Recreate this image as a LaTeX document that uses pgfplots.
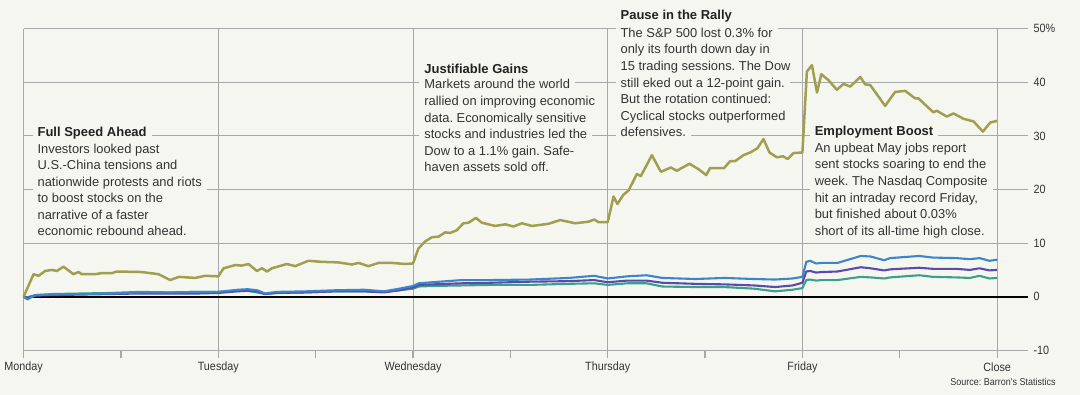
\documentclass[border=0pt]{standalone}
\usepackage{pgfplots}
\pgfplotsset{compat=1.18}
\usepackage{fontspec}
\setmainfont{Liberation Sans}
\newfontfamily\condfont{Liberation Sans}[FakeStretch=0.9]
\definecolor{bgc}{HTML}{F6F6F1}
\definecolor{gridc}{HTML}{A8A8A8}
\definecolor{textc}{HTML}{333333}
\definecolor{titlec}{HTML}{222222}
\definecolor{olive}{HTML}{A09F4F}
\definecolor{blues}{HTML}{3A86C8}
\definecolor{purp}{HTML}{5A4BAA}
\definecolor{teal2}{HTML}{3AA08C}
\newcommand{\bodyfont}{\fontsize{6.45}{8.3}\selectfont}
\newcommand{\titlefont}{\bfseries\fontsize{6.5}{8.3}\selectfont}
\newcommand{\tickfont}{\condfont\fontsize{6}{7}\selectfont}
\frenchspacing

\pgfplotstableread{
x y
0 0
0.051 4.2
0.077 3.9
0.111 4.8
0.145 5.0
0.171 4.8
0.205 5.6
0.256 4.2
0.282 4.6
0.299 4.2
0.368 4.2
0.402 4.4
0.453 4.4
0.479 4.7
0.607 4.6
0.693 4.2
0.753 3.1
0.798 3.7
0.881 3.5
0.933 3.9
1.000 3.8
1.027 5.3
1.087 5.9
1.121 5.8
1.155 6.1
1.198 4.8
1.224 5.3
1.250 4.7
1.275 5.3
1.352 6.1
1.395 5.7
1.463 6.7
1.532 6.5
1.617 6.4
1.686 6.0
1.720 6.3
1.771 5.7
1.823 6.3
1.892 6.3
1.960 6.1
2.000 6.2
2.028 9.0
2.062 10.3
2.097 11.1
2.131 11.2
2.165 12.0
2.191 11.9
2.225 12.4
2.259 13.7
2.285 13.8
2.323 14.7
2.354 13.8
2.422 13.2
2.474 13.5
2.516 13.1
2.559 13.7
2.611 13.2
2.696 13.6
2.756 14.3
2.833 13.7
2.902 14.0
2.931 14.4
2.953 13.9
3.000 13.9
3.030 18.7
3.050 17.3
3.080 19.0
3.107 19.8
3.150 22.9
3.170 22.5
3.227 26.4
3.273 23.3
3.324 24.1
3.355 23.5
3.420 24.8
3.466 23.8
3.506 22.7
3.526 24.0
3.598 24.0
3.629 25.3
3.655 25.3
3.697 26.4
3.732 26.9
3.769 27.7
3.800 29.4
3.831 26.9
3.869 26.0
3.900 26.2
3.924 25.7
3.955 26.8
4.000 26.9
4.023 42.0
4.049 43.2
4.075 38.1
4.097 41.5
4.134 40.4
4.177 38.6
4.211 39.7
4.246 39.2
4.297 41.0
4.323 39.6
4.348 39.5
4.425 35.6
4.476 38.2
4.528 38.4
4.579 37.0
4.596 37.0
4.631 35.8
4.673 34.4
4.690 34.7
4.742 33.6
4.776 34.2
4.827 33.2
4.879 32.7
4.927 30.8
4.965 32.5
5.000 32.8
}\olivedata

\pgfplotstableread{
x b p t
0 0 0 0
0.02 -0.5 -0.2 -0.1
0.06 0.3 0.2 0.3
0.15 0.4 0.3 0.5
0.30 0.5 0.4 0.6
0.45 0.6 0.5 0.7
0.60 0.8 0.6 0.9
0.75 0.8 0.6 0.8
0.90 0.9 0.6 0.9
1.00 0.9 0.7 0.9
1.10 1.3 1.0 1.1
1.15 1.4 1.1 1.1
1.20 1.2 1.0 0.8
1.24 0.6 0.5 0.5
1.30 0.9 0.7 0.7
1.45 1.0 0.8 0.8
1.60 1.2 1.0 1.0
1.75 1.3 1.0 1.0
1.85 1.0 0.8 0.9
1.93 1.5 1.2 1.2
2.00 2.0 1.7 1.5
2.03 2.5 2.2 1.9
2.10 2.7 2.3 2.0
2.25 3.1 2.5 2.1
2.40 3.1 2.6 2.2
2.60 3.2 2.8 2.2
2.80 3.5 2.9 2.4
2.93 3.9 3.1 2.5
3.00 3.4 2.7 2.2
3.10 3.8 3.0 2.5
3.20 4.0 3.0 2.5
3.28 3.5 2.6 1.9
3.45 3.3 2.4 1.8
3.60 3.5 2.3 1.8
3.75 3.3 2.1 1.5
3.86 3.2 1.8 1.0
3.95 3.4 2.1 1.3
4.00 3.7 2.6 1.6
4.02 6.5 4.7 3.1
4.04 6.7 4.8 3.2
4.07 6.2 4.5 3.0
4.10 6.3 4.6 3.1
4.18 6.3 4.7 3.1
4.30 7.6 5.5 3.7
4.35 7.5 5.3 3.6
4.42 6.8 4.9 3.4
4.45 7.2 5.1 3.6
4.60 7.6 5.4 4.0
4.67 7.3 5.2 3.7
4.79 7.2 5.2 3.6
4.86 7.0 5.0 3.5
4.91 7.2 5.3 3.9
4.96 6.7 4.9 3.4
5.00 6.9 5.0 3.5
}\lowdata

\begin{document}
\begin{tikzpicture}
\fill[bgc] (0,0) rectangle (540pt,197.5pt);
\useasboundingbox (0,0) rectangle (540pt,197.5pt);
\begin{axis}[
  at={(11.8pt,22.35pt)}, anchor=south west,
  scale only axis, width=486.75pt, height=160.8pt,
  xmin=0, xmax=5, ymin=-10, ymax=50,
  clip=false, no markers,
  axis line style={draw=none},
  xtick={0,1,2,3,4,5},
  xticklabels={Monday,Tuesday,Wednesday,Thursday,Friday,Close},
  minor xtick={0.5,1.5,2.5,3.5,4.5},
  xtick pos=bottom, tick align=outside,
  major tick length=4pt, minor tick length=4pt,
  x tick style={gridc, line width=0.6pt},
  ytick={-10,0,10,20,30,40,50},
  yticklabels={-10,0,10,20,30,40,50\%},
  ytick pos=right,
  y tick style={draw=none},
  xticklabel style={font=\tickfont, text=textc, anchor=center, yshift=-4.7pt},
  yticklabel style={font=\tickfont, text=textc, anchor=west, xshift=14pt, inner sep=0pt},
]
\pgfplotsinvokeforeach{-10,10,20,30,40,50}{
  \draw[gridc, line width=0.5pt] (axis cs:0,#1) -- (axis cs:5.159,#1);
}
\pgfplotsinvokeforeach{0,1,2,3,4,5}{
  \draw[gridc, line width=0.5pt] (axis cs:#1,-10) -- (axis cs:#1,50);
}
\draw[black, line width=1pt] (axis cs:0,0) -- (axis cs:5.159,0);
\addplot[teal2, line width=1.05pt, line join=round] table[x=x, y=t] {\lowdata};
\addplot[purp, line width=1.05pt, line join=round] table[x=x, y=p] {\lowdata};
\addplot[blues, line width=1.05pt, line join=round] table[x=x, y=b] {\lowdata};
\addplot[olive, line width=1.25pt, line join=round] table[x=x, y=y] {\olivedata};
\end{axis}

\begin{scope}[shift={(0,197.5pt)}, x=0.5pt, y=-0.5pt,
  body/.style={font=\bodyfont, text=textc, fill=bgc, inner xsep=2.5pt, inner ysep=0pt, text height=5.6pt, text depth=2.9pt, anchor=base west},
  ttl/.style={body, font=\titlefont, text=titlec}]
% Full Speed Ahead
\node[ttl] at (32.2,137) {Full Speed Ahead};
\node[body] at (32.2,153.5) {Investors looked past};
\node[body] at (32.2,170) {U.S.-China tensions and};
\node[body] at (32.2,186.5) {nationwide protests and riots};
\node[body] at (32.2,203) {to boost stocks on the};
\node[body] at (32.2,219.5) {narrative of a faster};
\node[body] at (32.2,236) {economic rebound ahead.};
% Justifiable Gains
\node[ttl] at (419,73.3) {Justifiable Gains};
\node[body] at (419,89) {Markets around the world};
\node[body] at (419,105.6) {rallied on improving economic};
\node[body] at (419,122.2) {data. Economically sensitive};
\node[body] at (419,138.8) {stocks and industries led the};
\node[body] at (419,155.4) {Dow to a 1.1\% gain. Safe-};
\node[body] at (419,172) {haven assets sold off.};
% Pause in the Rally
\node[ttl] at (615.2,20) {Pause in the Rally};
\node[body] at (615.2,37.3) {The S\&P 500 lost 0.3\% for};
\node[body] at (615.2,53.9) {only its fourth down day in};
\node[body] at (615.2,70.5) {15 trading sessions. The Dow};
\node[body] at (615.2,87.1) {still eked out a 12-point gain.};
\node[body] at (615.2,103.7) {But the rotation continued:};
\node[body] at (615.2,120.3) {Cyclical stocks outperformed};
\node[body] at (615.2,136.9) {defensives.};
% Employment Boost
\node[ttl] at (809.4,135.7) {Employment Boost};
\node[body] at (809.4,152.3) {An upbeat May jobs report};
\node[body] at (809.4,168.9) {sent stocks soaring to end the};
\node[body] at (809.4,185.5) {week. The Nasdaq Composite};
\node[body] at (809.4,202.1) {hit an intraday record Friday,};
\node[body] at (809.4,218.7) {but finished about 0.03\%};
\node[body] at (809.4,235.3) {short of its all-time high close.};
% source
\node[anchor=base east, font=\condfont\fontsize{5}{6}\selectfont, text=textc, inner sep=0pt] at (1056,386) {Source: Barron's Statistics};
\end{scope}
\end{tikzpicture}
\end{document}
